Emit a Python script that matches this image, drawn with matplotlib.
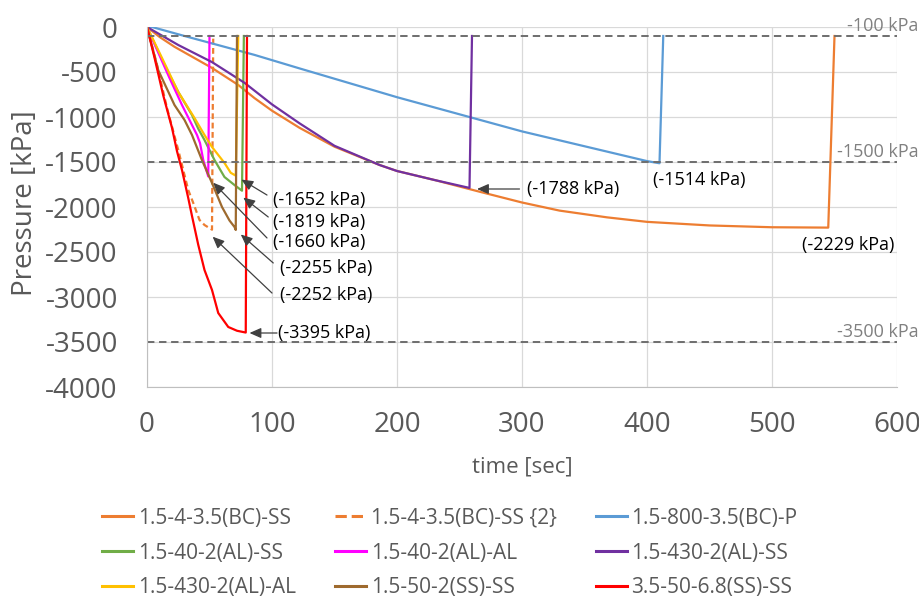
import matplotlib

matplotlib.use("Agg")
import matplotlib.pyplot as plt
from matplotlib.lines import Line2D

plt.rcParams["font.family"] = ["Open Sans", "DejaVu Sans"]
plt.rcParams["axes.unicode_minus"] = False

GRAY_TXT = "#595959"

# --- series (time [sec], pressure [kPa]) ---
t_bc_ss = [0, 10, 22, 52, 73, 86, 100, 122, 150, 186, 200, 230, 266, 300, 330, 368, 400, 450, 500, 545, 550]
p_bc_ss = [0, -110, -220, -455, -644, -790, -930, -1120, -1330, -1533, -1600, -1700, -1830, -1950, -2040,
           -2115, -2165, -2205, -2225, -2229, -100]

t_bc_ss2 = [0, 8, 16, 25, 33, 37, 42, 46, 52, 53]
p_bc_ss2 = [0, -420, -900, -1367, -1811, -1955, -2144, -2200, -2252, -100]

t_bc_p = [0, 4, 30, 86, 122, 200, 300, 400, 410, 413]
p_bc_p = [0, 0, -100, -310, -460, -780, -1160, -1490, -1514, -100]

t_al_ss40 = [0, 14, 25, 36, 41, 46, 54, 62, 70, 76, 77.5]
p_al_ss40 = [0, -422, -722, -978, -1130, -1256, -1478, -1667, -1756, -1819, -100]

t_al_al40 = [0, 18, 28, 36, 40, 42.4, 45, 49, 50]
p_al_al40 = [0, -567, -867, -1089, -1200, -1289, -1478, -1660, -100]

t_al_ss430 = [0, 25, 52, 78, 100, 122, 150, 186, 200, 230, 258, 260]
p_al_ss430 = [0, -200, -390, -620, -860, -1070, -1320, -1533, -1600, -1700, -1788, -100]

t_al_al430 = [0, 12, 25, 38, 46, 52, 62, 67, 71, 73]
p_al_al430 = [0, -344, -722, -1011, -1200, -1333, -1511, -1620, -1652, -100]

t_ss50 = [0, 9, 22, 30, 36, 44, 52, 60, 66, 70, 71, 72]
p_ss50 = [0, -480, -867, -1033, -1200, -1480, -1733, -2000, -2150, -2222, -2255, -100]

t_ss68 = [0, 6, 13, 20, 24, 28, 33, 36, 41, 46, 52, 57, 65, 72, 79, 80]
p_ss68 = [0, -340, -760, -1120, -1380, -1590, -1900, -2100, -2420, -2700, -2922, -3178, -3333, -3375, -3395, -100]

series = [
    ("1.5-4-3.5(BC)-SS", t_bc_ss, p_bc_ss, "#ED7D31", "-"),
    ("1.5-4-3.5(BC)-SS {2}", t_bc_ss2, p_bc_ss2, "#ED7D31", (0, (2.6, 1.6))),
    ("1.5-800-3.5(BC)-P", t_bc_p, p_bc_p, "#5B9BD5", "-"),
    ("1.5-40-2(AL)-SS", t_al_ss40, p_al_ss40, "#70AD47", "-"),
    ("1.5-40-2(AL)-AL", t_al_al40, p_al_al40, "#FF00FF", "-"),
    ("1.5-430-2(AL)-SS", t_al_ss430, p_al_ss430, "#7030A0", "-"),
    ("1.5-430-2(AL)-AL", t_al_al430, p_al_al430, "#FFC000", "-"),
    ("1.5-50-2(SS)-SS", t_ss50, p_ss50, "#9E6A2E", "-"),
    ("3.5-50-6.8(SS)-SS", t_ss68, p_ss68, "#FF0000", "-"),
]

ref_levels = [-100, -1500, -3500]
ref_labels = ["-100 kPa", "-1500 kPa", "-3500 kPa"]

# peak labels: text, text anchor (t, p), arrow tail, arrow head (None = no arrow)
peak_labels = [
    ("(-1652 kPa)", (101, -1922), (96, -1867), (75.5, -1695)),
    ("(-1819 kPa)", (101, -2167), (97, -2111), (77, -1895)),
    ("(-1660 kPa)", (101, -2389), (96, -2344), (53, -1730)),
    ("(-2255 kPa)", (106, -2678), (101, -2622), (75, -2305)),
    ("(-2252 kPa)", (106, -2978), (100, -2956), (52.5, -2330)),
    ("(-3395 kPa)", (105, -3400), (104, -3400), (82, -3400)),
    ("(-1788 kPa)", (304, -1800), (298, -1800), (264, -1800)),
    ("(-1514 kPa)", (405, -1700), None, None),
    ("(-2229 kPa)", (524, -2422), None, None),
]

fig = plt.figure(figsize=(9.2, 6.06), dpi=100)
ax = fig.add_axes([147 / 920, 1 - 387 / 606, 750 / 920, 360 / 606])

handles = []
for name, t, p, c, ls in series:
    (ln,) = ax.plot(t, p, color=c, lw=1.6, ls=ls, label=name)
    handles.append(ln)

for lvl, lbl in zip(ref_levels, ref_labels):
    ax.axhline(lvl, color="#6e6e6e", lw=1.4, ls=(0, (3.8, 2.4)))
    ax.text(617, lvl + 110, lbl, ha="right", va="center", fontsize=13, color="#808080", clip_on=False)

for txt, pos, tail, head in peak_labels:
    ax.text(pos[0], pos[1], txt, ha="left", va="center", fontsize=13, color="black")
    if tail is not None:
        ax.annotate("", xy=head, xytext=tail,
                    arrowprops=dict(arrowstyle="-|>,head_length=0.5,head_width=0.22", color="#404040",
                                    lw=0.9, shrinkA=0, shrinkB=0, mutation_scale=14))

ax.set_xlim(0, 600)
ax.set_ylim(-4000, 0)
ax.set_xticks(range(0, 601, 100))
ax.set_yticks(range(-4000, 1, 500))
ax.grid(True, color="#d9d9d9", lw=0.9)
ax.set_axisbelow(True)
for s in ["top", "right"]:
    ax.spines[s].set_visible(False)
for s in ["left", "bottom"]:
    ax.spines[s].set_color("#bfbfbf")
ax.tick_params(axis="y", length=0, pad=21, labelsize=20, labelcolor=GRAY_TXT)
ax.tick_params(axis="x", length=0, pad=17, labelsize=20, labelcolor=GRAY_TXT)

fig.text(25 / 920, 1 - 203 / 606, "Pressure [kPa]", rotation=90, ha="center", va="center",
         fontsize=20, color=GRAY_TXT)
fig.text(522 / 920, 1 - 467 / 606, "time [sec]", ha="center", va="center", fontsize=16, color=GRAY_TXT)

# legend filled row-wise as in the reference (matplotlib fills column-wise)
order = [0, 3, 6, 1, 4, 7, 2, 5, 8]
leg_handles = [Line2D([], [], color=handles[i].get_color(), ls=handles[i].get_linestyle(), lw=2.2) for i in order]
leg_labels = [series[i][0] for i in order]
fig.legend(leg_handles, leg_labels, ncol=3, loc="center", bbox_to_anchor=(0.489, 1 - 553 / 606),
           frameon=False, fontsize=15, labelcolor=GRAY_TXT, handlelength=1.5, handletextpad=0.2,
           columnspacing=1.9, labelspacing=0.67)

fig.savefig("out.png", dpi=100)
